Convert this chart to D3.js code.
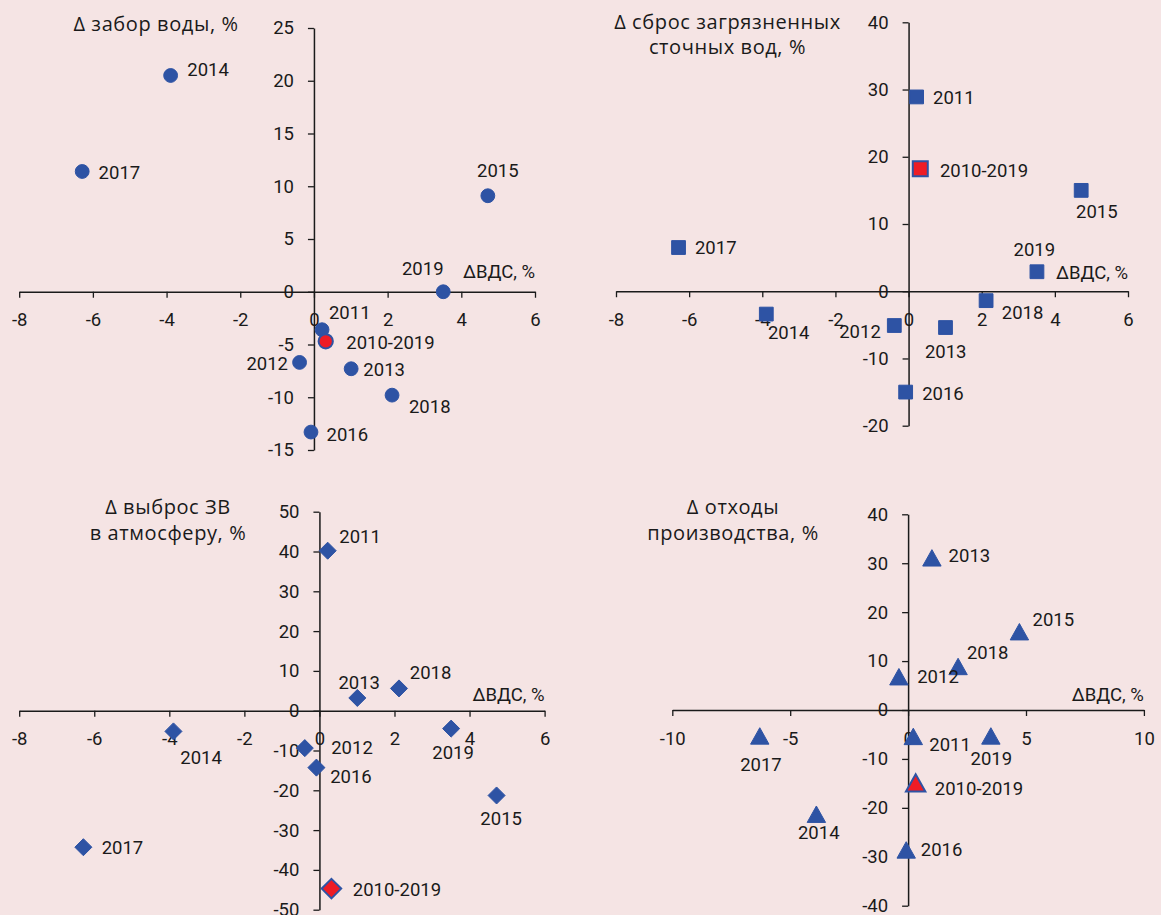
<!DOCTYPE html>
<html lang="ru">
<head>
<meta charset="utf-8">
<title>ΔВДС и экологические показатели</title>
<script src="https://cdn.jsdelivr.net/npm/d3@7"></script>
<style>
  html, body { margin: 0; padding: 0; background: #F5E4E4; }
  svg { display: block; }
  text { font-family: Roboto, "Noto Sans", sans-serif; fill: #1a1a1a; }
  text.title { font-family: "Open Sans", Roboto, sans-serif; letter-spacing: 0.6px; }
</style>
</head>
<body>
<svg id="chart" width="1161" height="915"></svg>
<script>
// Годы (точки) и прирост ВДС, % — общая ось X для всех четырёх диаграмм
const years = ["2011", "2012", "2013", "2014", "2015", "2016", "2017", "2018", "2019", "2010-2019"];
const gvaGrowth = [0.22, -0.39, 1.01, -3.89, 4.72, -0.08, -6.29, 2.12, 3.51, 0.32];

// Приросты экологических показателей, %
const waterWithdrawal     = [-3.6, -6.7, -7.3, 20.5, 9.1, -13.3, 11.4, -9.8, 0.0, -4.7];
const wastewaterDischarge = [28.9, -5.1, -5.4, -3.4, 15.0, -15.0, 6.5, -1.4, 2.9, 18.2];
const airEmissions        = [40.2, -9.4, 3.2, -5.2, -21.3, -14.3, -34.3, 5.6, -4.5, -44.7];
const productionWaste     = [-5.4, 6.8, 31.1, -21.3, 16.0, -28.6, -5.3, 8.9, -5.3, -14.9];

// Подписи делений осей
const xTicksNarrow = [-8, -6, -4, -2, 0, 2, 4, 6];
const xTicksWide   = [-10, -5, 0, 5, 10];
const yTicksWater  = [-15, -10, -5, 0, 5, 10, 15, 20, 25];
const yTicksWaste  = [-20, -10, 0, 10, 20, 30, 40];
const yTicksAir    = [-50, -40, -30, -20, -10, 0, 10, 20, 30, 40, 50];
const yTicksProd   = [-40, -30, -20, -10, 0, 10, 20, 30, 40];

// Заголовки
const xAxisTitle = "ΔВДС, %";
const titleWater = ["Δ забор воды, %"];
const titleWaste = ["Δ сброс загрязненных", "сточных вод, %"];
const titleAir   = ["Δ выброс ЗВ", "в атмосферу, %"];
const titleProd  = ["Δ отходы", "производства, %"];

// ---- оформление ----
const BLUE = "#2E53A4";
const RED = "#EE1C25";
const FONT = 18.5;
const TITLE_FONT = 20;
const HALF_CAP = 6.6;

// Маркеры в стиле Excel: ромб — повёрнутый квадрат, треугольник центрирован по габариту
const diamond = {
  draw(ctx, size) {
    const h = Math.sqrt(size) / 2;
    ctx.moveTo(0, -h); ctx.lineTo(h, 0); ctx.lineTo(0, h); ctx.lineTo(-h, 0); ctx.closePath();
  }
};
const triangle = {
  draw(ctx, size) {
    const w = Math.sqrt(size) * 0.56, h = Math.sqrt(size) * 0.5;
    ctx.moveTo(0, -h); ctx.lineTo(w, h); ctx.lineTo(-w, h); ctx.closePath();
  }
};

const panels = [
  {
    values: waterWithdrawal, xTicks: xTicksNarrow, yTicks: yTicksWater,
    xRange: [19.2, 535], yRange: [450, 28], title: titleWater,
    titleX: 156, titleBaselines: [31], axisTitleLift: 13.5,
    symbol: d3.symbolCircle, size: 150, sizeRed: 160,
    labelOffsets: [[27.7, -17.3], [-32.4, 0.7], [33, 0.3], [37.5, -6], [10, -25],
                   [36.3, 2], [37.2, 0.6], [37.7, 11], [-20.5, -23], [64.7, 1]]
  },
  {
    values: wastewaterDischarge, xTicks: xTicksNarrow, yTicks: yTicksWaste,
    xRange: [616, 1128], yRange: [425.7, 22.3], title: titleWaste,
    titleX: 727.5, titleBaselines: [28.5, 53.5], axisTitleLift: 12.5,
    symbol: d3.symbolSquare, size: 190, sizeRed: 225,
    labelOffsets: [[37.2, 0.6], [-34.3, 6], [0.2, 24], [22.4, 18.7], [15.7, 20.7],
                   [37.3, 1.7], [37.2, 0.3], [36.5, 11.7], [-2.6, -22], [63.8, 2]]
  },
  {
    values: airEmissions, xTicks: xTicksNarrow, yTicks: yTicksAir,
    xRange: [19.2, 544.6], yRange: [909.7, 511.7], title: titleAir,
    titleX: 168, titleBaselines: [513.5, 540], axisTitleLift: 9.5,
    symbol: diamond, size: 290, sizeRed: 380,
    labelOffsets: [[32.4, -14.6], [47.2, -1], [1.9, -16], [27.6, 26.3], [4.6, 23.3],
                   [34.5, 8.4], [39.1, 0.6], [31.6, -16.3], [1.9, 23.4], [65.5, 1]]
  },
  {
    values: productionWaste, xTicks: xTicksWide, yTicks: yTicksProd,
    xRange: [672.3, 1143.9], yRange: [905.7, 514.3], title: titleProd,
    titleX: 733, titleBaselines: [514, 540], axisTitleLift: 9.5,
    symbol: triangle, size: 270, sizeRed: 300,
    labelOffsets: [[36.8, 8.3], [39.1, 0], [37.5, -2], [2.4, 18], [33.9, -12.4],
                   [35.4, -0.7], [1.2, 28.3], [29.6, -14], [0.5, 22.3], [63.3, 5.6]]
  }
];

const svg = d3.select("#chart");
svg.append("rect").attr("width", 1161).attr("height", 915).attr("fill", "#F5E4E4");

panels.forEach(p => {
  const xDom = d3.extent(p.xTicks), yDom = d3.extent(p.yTicks);
  const x = d3.scaleLinear().domain(xDom).range(p.xRange);
  const y = d3.scaleLinear().domain(yDom).range(p.yRange);
  const g = svg.append("g");

  // Оси пересекаются в нуле
  const xAxis = g.append("g")
    .attr("transform", `translate(0,${y(0)})`)
    .call(d3.axisBottom(x).tickValues(p.xTicks).tickFormat(d3.format("d"))
      .tickSize(6).tickSizeOuter(0).tickPadding(15.5));
  const yAxis = g.append("g")
    .attr("transform", `translate(${x(0)},0)`)
    .call(d3.axisLeft(y).tickValues(p.yTicks).tickFormat(d3.format("d"))
      .tickSize(6).tickSizeOuter(0).tickPadding(14));

  [xAxis, yAxis].forEach(a => {
    a.select(".domain").attr("stroke", "#1a1a1a").attr("stroke-width", 1.5);
    a.selectAll(".tick line").attr("stroke", "#1a1a1a").attr("stroke-width", 1.3);
    a.selectAll(".tick text")
      .attr("fill", "#1a1a1a")
      .style("font-family", "Roboto, 'Noto Sans', sans-serif")
      .style("font-size", FONT + "px")
      .text(d => d < 0 ? "-" + Math.abs(d) : String(d));
  });

  // Подпись оси X
  g.append("text")
    .attr("x", p.xRange[1])
    .attr("y", y(0) - p.axisTitleLift)
    .attr("text-anchor", "end")
    .style("font-size", FONT + "px")
    .text(xAxisTitle);

  // Заголовок оси Y
  g.append("g").selectAll("text")
    .data(p.title)
    .join("text")
    .attr("class", "title")
    .attr("x", p.titleX)
    .attr("y", (d, i) => p.titleBaselines[i])
    .attr("text-anchor", "middle")
    .style("font-size", TITLE_FONT + "px")
    .text(d => d);

  // Точки: годы синим, средний за 2010-2019 красным поверх
  const pts = years.map((yr, i) => ({ yr, gx: gvaGrowth[i], v: p.values[i], off: p.labelOffsets[i], total: yr === "2010-2019" }));
  const ordered = pts.filter(d => !d.total).concat(pts.filter(d => d.total));

  g.append("g").selectAll("path")
    .data(ordered)
    .join("path")
    .attr("transform", d => `translate(${x(d.gx)},${y(d.v)})`)
    .attr("d", d => d3.symbol().type(p.symbol).size(d.total ? p.sizeRed : p.size)())
    .attr("fill", d => d.total ? RED : BLUE)
    .attr("stroke", BLUE)
    .attr("stroke-width", d => d.total ? 2 : 1);

  g.append("g").selectAll("text")
    .data(pts)
    .join("text")
    .attr("x", d => x(d.gx) + d.off[0])
    .attr("y", d => y(d.v) + d.off[1] + HALF_CAP)
    .attr("text-anchor", "middle")
    .style("font-size", FONT + "px")
    .text(d => d.yr);
});
</script>
</body>
</html>
